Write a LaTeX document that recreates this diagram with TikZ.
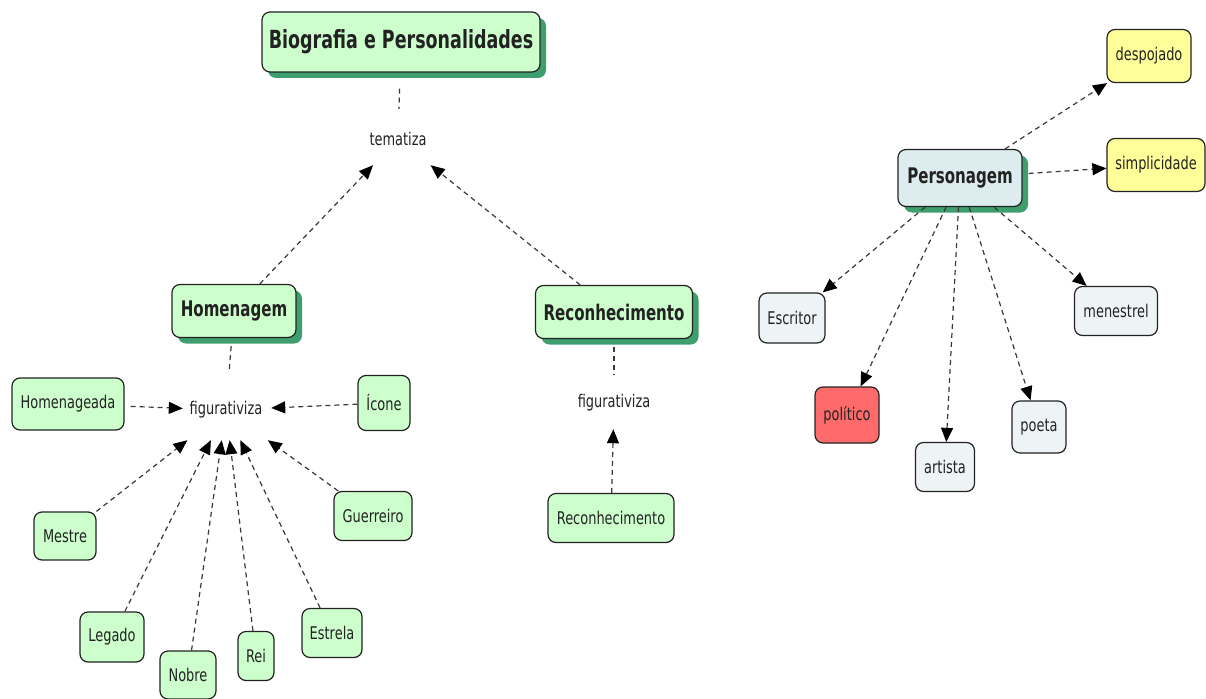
\documentclass[tikz,border=0pt]{standalone}
\usepackage{fontspec}
\setmainfont{DejaVu Sans}[FakeStretch=0.74]
\newfontfamily\headfont{DejaVu Sans Bold}[FakeStretch=0.7]
\usetikzlibrary{arrows.meta,shadows}
\definecolor{leaf}{HTML}{CCFFCC}
\definecolor{shade}{HTML}{3E9E6E}
\definecolor{pale}{HTML}{EEF3F6}
\definecolor{ice}{HTML}{DDECEE}
\definecolor{lemon}{HTML}{FFFF99}
\definecolor{coral}{HTML}{FF6B6B}
\definecolor{ink}{HTML}{222222}
\tikzset{
  x=1pt,y=-1pt,
  concept/.style={draw=ink,line width=1.2pt,rounded corners=8pt,align=center,
    inner sep=0pt,font=\fontsize{17.5}{19}\selectfont,text=ink},
  head/.style={concept,fill=leaf,font=\headfont\fontsize{21.5}{23}\selectfont,
    drop shadow={fill=shade,opacity=1,shadow xshift=6pt,shadow yshift=-6pt}},
  leafbox/.style={concept,fill=leaf},
  palebox/.style={concept,fill=pale},
  linkword/.style={font=\fontsize{17.5}{19}\selectfont,text=ink,inner sep=0pt},
  link/.style={draw=ink!90,line width=1.2pt,dash pattern=on 5pt off 4pt},
  arr/.style={link,-{Triangle[length=14pt,width=12pt,color=black,fill=black]}},
}
\begin{document}
\begin{tikzpicture}
\useasboundingbox (0,0) rectangle (1206,698);
% main heading
\node[head,font=\headfont\fontsize{25}{27}\selectfont,minimum width=278pt,minimum height=60pt] (bio) at (401,42) {Biografia e Personalidades};
\node[linkword,minimum width=90pt,minimum height=52pt] (tem) at (398,139) {tematiza};
% left branch
\node[head,minimum width=124pt,minimum height=53pt] (hom) at (234,311) {Homenagem};
\node[linkword,minimum width=110pt,minimum height=60pt] (figA) at (226,410) {figurativiza};
\node[leafbox,minimum width=112pt,minimum height=52pt] (homa) at (68,404) {Homenageada};
\node[leafbox,minimum width=52pt,minimum height=55pt] (icon) at (384,403) {Ícone};
\node[leafbox,minimum width=62pt,minimum height=48pt] (mest) at (65,536) {Mestre};
\node[leafbox,minimum width=78pt,minimum height=49pt] (guer) at (373,516) {Guerreiro};
\node[leafbox,minimum width=64pt,minimum height=50pt] (leg) at (112,637) {Legado};
\node[leafbox,minimum width=56pt,minimum height=48pt] (nob) at (188,675) {Nobre};
\node[leafbox,minimum width=36pt,minimum height=49pt] (rei) at (256,656) {Rei};
\node[leafbox,minimum width=60pt,minimum height=49pt] (est) at (332,633) {Estrela};
% middle branch
\node[head,minimum width=157pt,minimum height=53pt] (rec) at (614,312) {Reconhecimento};
\node[linkword,minimum width=90pt,minimum height=52pt] (figB) at (614,403) {figurativiza};
\node[leafbox,minimum width=126pt,minimum height=49pt] (rec2) at (611,518) {Reconhecimento};
% right branch
\node[head,fill=ice,minimum width=124pt,minimum height=57pt] (pers) at (960,178) {Personagem};
\node[concept,fill=lemon,minimum width=84pt,minimum height=53pt] (desp) at (1149,56) {despojado};
\node[concept,fill=lemon,minimum width=98pt,minimum height=53pt] (simp) at (1156,165) {simplicidade};
\node[palebox,minimum width=66pt,minimum height=50pt] (escr) at (792,318) {Escritor};
\node[palebox,minimum width=83pt,minimum height=49pt] (men) at (1116,311) {menestrel};
\node[concept,fill=coral,minimum width=64pt,minimum height=56pt] (pol) at (847,415) {político};
\node[palebox,minimum width=59pt,minimum height=49pt] (art) at (945,467) {artista};
\node[palebox,minimum width=54pt,minimum height=52pt] (poe) at (1039,427) {poeta};
% connectors
\draw[link,shorten <=16pt,shorten >=4pt] (bio) -- (tem);
\draw[arr] (hom) -- (tem);
\draw[arr] (rec) -- (tem);
\draw[link,shorten <=8pt,shorten >=10pt] (hom) -- (figA);
\draw[arr,shorten <=6pt,shorten >=-12pt] (homa) -- (figA);
\draw[arr,shorten >=-10pt] (icon) -- (figA);
\draw[arr] (mest) -- (figA);
\draw[arr] (leg) -- (figA);
\draw[arr] (nob) -- (figA);
\draw[arr] (rei) -- (figA);
\draw[arr] (est) -- (figA);
\draw[arr] (guer) -- (figA);
\draw[link,shorten <=8pt,shorten >=2pt] (rec) -- (figB);
\draw[arr] (rec2) -- (figB);
\draw[arr] (pers) -- (desp);
\draw[arr,shorten <=6pt] (pers) -- (simp);
\draw[arr] (pers) -- (escr);
\draw[arr] (pers) -- (pol);
\draw[arr] (pers) -- (art);
\draw[arr] (pers) -- (poe);
\draw[arr] (pers) -- (men);
\end{tikzpicture}
\end{document}
